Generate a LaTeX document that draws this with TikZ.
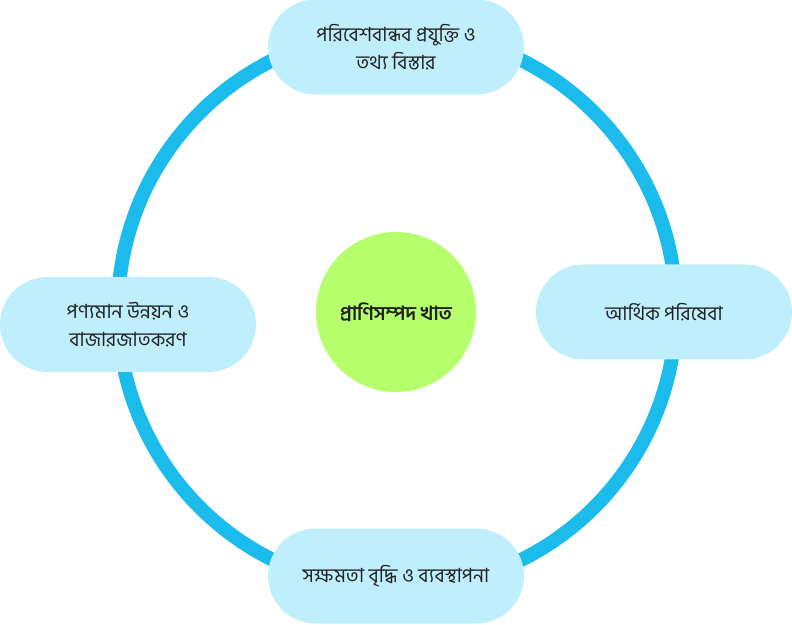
\documentclass[tikz,border=0pt]{standalone}
\usepackage{fontspec}
\newfontfamily\bengalifont[Script=Bengali]{Hind Siliguri}
\definecolor{ringblue}{HTML}{1BBBEC}
\definecolor{boxfill}{HTML}{BFEFFD}
\definecolor{hubgreen}{HTML}{B6FF6C}
\definecolor{txt}{HTML}{222222}
\tikzset{
  pill/.style={rectangle, rounded corners=47.5pt, fill=boxfill, draw=none,
    minimum width=256pt, minimum height=95pt, align=center, text=txt,
    font=\bengalifont\fontsize{19.5}{28}\selectfont, inner sep=0pt},
  hub/.style={circle, fill=hubgreen, draw=none, minimum size=160pt, inner sep=0pt,
    text=txt, font=\bengalifont\bfseries\fontsize{19.5}{28}\selectfont},
  ring/.style={draw=ringblue, line width=14pt}
}
\begin{document}
\begin{tikzpicture}[x=1pt,y=1pt]
\useasboundingbox (0,0) rectangle (792,624);
\coordinate (ringc) at (397,314);
\draw[ring] (ringc) circle[radius=279];
\node[pill] (top) at (396,577) {পরিবেশবান্ধব প্রযুক্তি ও\\তথ্য বিস্তার};
\node[pill] (right) at (664,312) {আর্থিক পরিষেবা};
\node[pill] (bottom) at (396,48) {সক্ষমতা বৃদ্ধি ও ব্যবস্থাপনা};
\node[pill] (left) at (128,299.5) {পণ্যমান উন্নয়ন ও\\বাজারজাতকরণ};
\node[hub] (hub) at (396,312) {প্রাণিসম্পদ খাত};
\end{tikzpicture}
\end{document}
